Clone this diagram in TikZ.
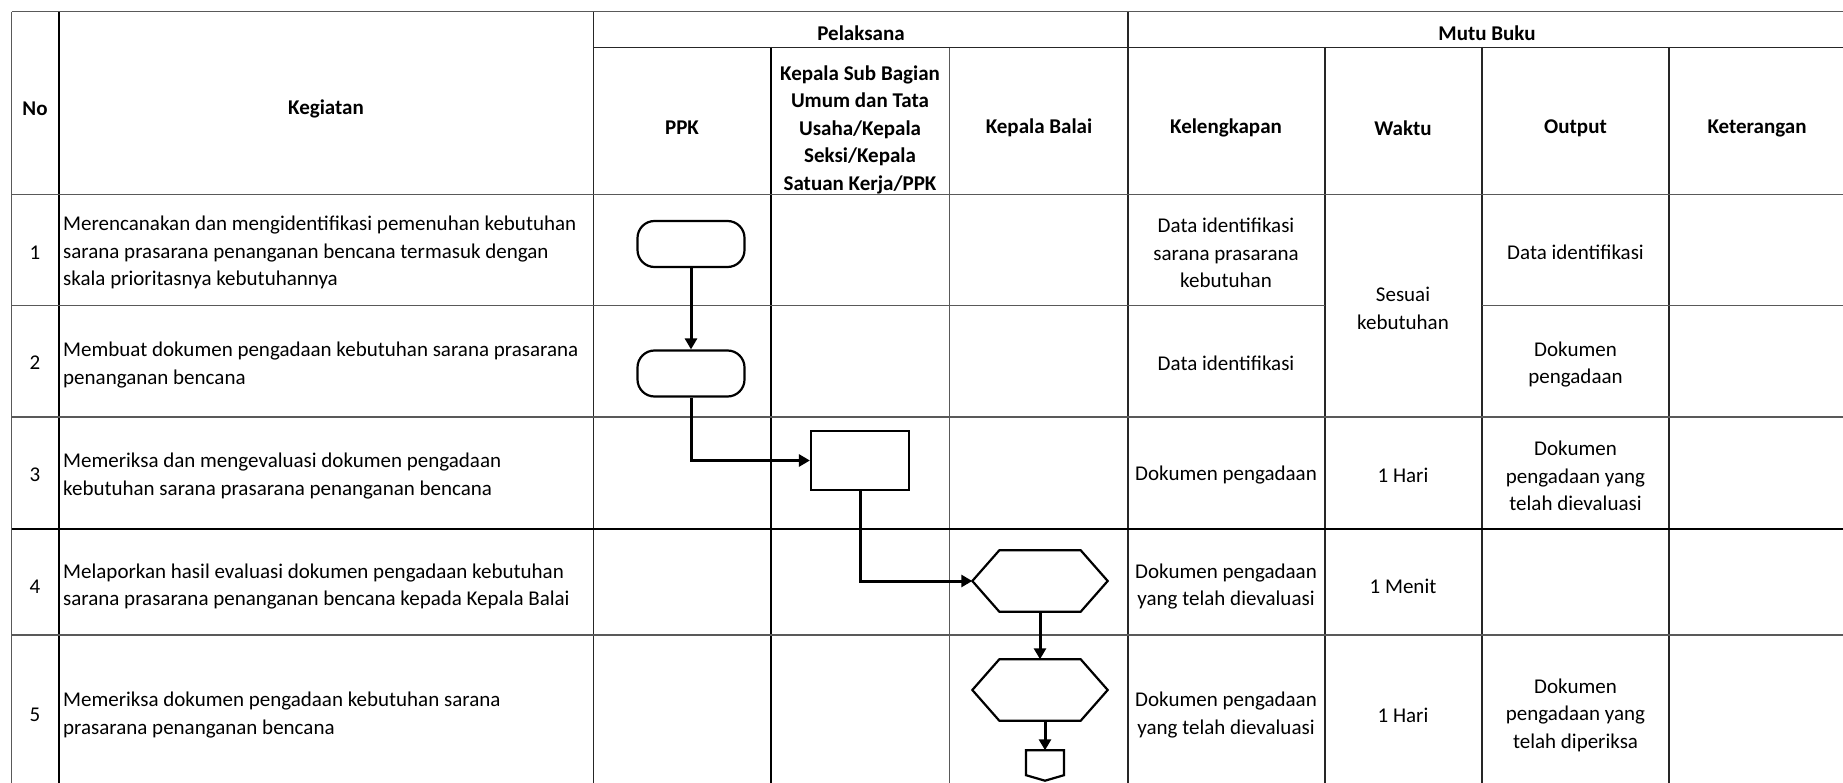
\documentclass[tikz,border=0pt]{standalone}
\usepackage{fontspec}
\setmainfont{Carlito}
\usetikzlibrary{arrows.meta}
\begin{document}
\begin{tikzpicture}[x=1pt,y=-1pt,
  grid/.style={line width=1.3pt, black!65},
  gridm/.style={line width=1.7pt, black!85},
  gridt/.style={line width=2.6pt, black},
  txt/.style={font=\fontsize{21}{27.5}\selectfont, inner sep=0pt, align=center},
  hdr/.style={inner sep=0pt, align=center, font=\fontsize{21}{27.5}\selectfont\bfseries},
  lefttxt/.style={font=\fontsize{21}{27.5}\selectfont, inner sep=0pt, align=left, anchor=west},
  term/.style={draw, line width=2.2pt, rounded corners=17pt, minimum width=107pt, minimum height=46pt},
  proc/.style={draw, line width=2.2pt, minimum width=98pt, minimum height=59pt},
  hexbox/.style={minimum width=135pt, minimum height=61pt, inner sep=0pt},
  offbox/.style={minimum width=37.5pt, minimum height=30pt, inner sep=0pt},
  shp/.style={line width=2.2pt, line join=miter},
  flow/.style={line width=3pt, -{Triangle[length=11pt,width=12pt]}}
]
\useasboundingbox (0,0) rectangle (1843,783);
\fill[white] (0,0) rectangle (1843,783);

% ---------- grid ----------
\draw[grid] (11.75,11.75) -- (11.75,783);
\draw[gridt] (58.8,11.75) -- (58.8,783);
\draw[gridm] (593.6,11.75) -- (593.6,783);
\draw[gridt] (771,47) -- (771,783);
\draw[grid] (949.7,47) -- (949.7,783);
\draw[gridm] (1128,11.75) -- (1128,783);
\draw[gridm] (1324.7,47) -- (1324.7,783);
\draw[gridm] (1482,47) -- (1482,783);
\draw[gridm] (1669,47) -- (1669,783);

\draw[grid] (11.75,11.75) -- (1843,11.75);
\draw[gridm] (593.6,47.5) -- (1843,47.5);
\draw[grid] (11.75,194.5) -- (1843,194.5);
\draw[grid] (11.75,305.6) -- (1324.7,305.6);
\draw[grid] (1482,305.6) -- (1843,305.6);
\draw[grid] (11.75,417) -- (1843,417);
\draw[gridt] (11.75,529) -- (1843,529);
\draw[grid] (11.75,635) -- (1843,635);

% ---------- header ----------
\node[hdr] (hno) at (35,108.5) {No};
\node[hdr] (hkeg) at (326,108.5) {Kegiatan};
\node[hdr] (hpel) at (861,33) {Pelaksana};
\node[hdr] (hmutu) at (1487,33) {Mutu Buku};
\node[hdr] (hppk) at (682,128) {PPK};
\node[hdr] (hksb) at (860,129.5) {Kepala Sub Bagian\\Umum dan Tata\\Usaha/Kepala\\Seksi/Kepala\\Satuan Kerja/PPK};
\node[hdr] (hkb) at (1039,128) {Kepala Balai};
\node[hdr] (hkel) at (1226,128) {Kelengkapan};
\node[hdr] (hwak) at (1403,128) {Waktu};
\node[hdr] (hout) at (1575.5,128) {Output};
\node[hdr] (hket) at (1757,128) {Keterangan};

% ---------- numbers ----------
\node[txt] (n1) at (35,252.7) {1};
\node[txt] (n2) at (35,363) {2};
\node[txt] (n3) at (35,475) {3};
\node[txt] (n4) at (35,586.7) {4};
\node[txt] (n5) at (35,715) {5};

% ---------- kegiatan ----------
\node[lefttxt] (k1) at (63,252.7) {Merencanakan dan mengidentifikasi pemenuhan kebutuhan\\sarana prasarana penanganan bencana termasuk dengan\\skala prioritasnya kebutuhannya};
\node[lefttxt] (k2) at (63,365) {Membuat dokumen pengadaan kebutuhan sarana prasarana\\penanganan bencana};
\node[lefttxt] (k3) at (63,475.8) {Memeriksa dan mengevaluasi dokumen pengadaan\\kebutuhan sarana prasarana penanganan bencana};
\node[lefttxt] (k4) at (63,586.7) {Melaporkan hasil evaluasi dokumen pengadaan kebutuhan\\sarana prasarana penanganan bencana kepada Kepala Balai};
\node[lefttxt] (k5) at (63,715) {Memeriksa dokumen pengadaan kebutuhan sarana\\prasarana penanganan bencana};

% ---------- kelengkapan ----------
\node[txt] (l1) at (1226,253) {Data identifikasi\\sarana prasarana\\kebutuhan};
\node[txt] (l2) at (1226,363.3) {Data identifikasi};
\node[txt] (l3) at (1226,475) {Dokumen pengadaan};
\node[txt] (l4) at (1226,586.7) {Dokumen pengadaan\\yang telah dievaluasi};
\node[txt] (l5) at (1226,715) {Dokumen pengadaan\\yang telah dievaluasi};

% ---------- waktu ----------
\node[txt] (w12) at (1403,308.3) {Sesuai\\kebutuhan};
\node[txt] (w3) at (1403,475) {1 Hari};
\node[txt] (w4) at (1403,586) {1 Menit};
\node[txt] (w5) at (1403,715) {1 Hari};

% ---------- output ----------
\node[txt] (o1) at (1575.5,252.7) {Data identifikasi};
\node[txt] (o2) at (1575.5,364.3) {Dokumen\\pengadaan};
\node[txt] (o3) at (1575.5,475.8) {Dokumen\\pengadaan yang\\telah dievaluasi};
\node[txt] (o5) at (1575.5,715.3) {Dokumen\\pengadaan yang\\telah diperiksa};

% ---------- flow shapes ----------
\node[term] (t1) at (691,244) {};
\node[term] (t2) at (691,373.5) {};
\node[proc] (r3) at (860,460.5) {};
\node[hexbox] (h1) at (1040,581) {};
\node[hexbox] (h2) at (1040,690) {};
\node[offbox] (op) at (1045,765.5) {};

\draw[shp] (h1.west) -- ([xshift=27pt]h1.north west) -- ([xshift=-27pt]h1.north east) -- (h1.east) -- ([xshift=-27pt]h1.south east) -- ([xshift=27pt]h1.south west) -- cycle;
\draw[shp] (h2.west) -- ([xshift=27pt]h2.north west) -- ([xshift=-27pt]h2.north east) -- (h2.east) -- ([xshift=-27pt]h2.south east) -- ([xshift=27pt]h2.south west) -- cycle;
\draw[shp] (op.north west) -- (op.north east) -- ([yshift=5.5pt]op.south east) -- (op.south) -- ([yshift=5.5pt]op.south west) -- cycle;

% ---------- connectors ----------
\draw[flow] (t1.south) -- (t2.north);
\draw[flow] (t2.south) |- (r3.west);
\draw[flow] (r3.south) |- (h1.west);
\draw[flow] (h1.south) -- (h2.north);
\draw[flow] (h2.south -| op.north) -- (op.north);
\end{tikzpicture}
\end{document}
